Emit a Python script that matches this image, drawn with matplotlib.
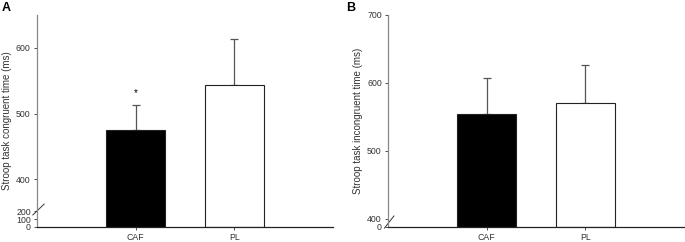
import numpy as np
import matplotlib.pyplot as plt

plt.rcParams['font.family'] = ['Liberation Sans', 'DejaVu Sans']

groups = ['CAF', 'PL']
colors = ['black', 'white']

cong_mean = [475, 544]
cong_err = [38, 70]
incong_mean = [554, 571]
incong_err = [54, 56]

# broken axis mappings (value -> pixel height)
a_vals = [0, 200, 400, 650]
a_pix = [0, 16, 48, 213]
b_vals = [0, 400, 700]
b_pix = [0, 8, 212]


def make_scale(vals, pix):
    fwd = lambda v: np.interp(v, vals, pix)
    inv = lambda p: np.interp(p, pix, vals)
    return fwd, inv


fig = plt.figure(figsize=(6.85, 2.42), dpi=100)
axA = fig.add_axes([37 / 685, 15 / 242, 296 / 685, 212 / 242])
axB = fig.add_axes([388 / 685, 15 / 242, 296 / 685, 212 / 242])

panels = [
    (axA, cong_mean, cong_err, a_vals, a_pix, [0, 100, 200, 400, 500, 600],
     'Stroop task congruent time (ms)', 'A', [(-0.014, 0.057), (0.024, 0.108)]),
    (axB, incong_mean, incong_err, b_vals, b_pix, [0, 400, 500, 600, 700],
     'Stroop task incongruent time (ms)', 'B', [(-0.012, -0.005), (0.02, 0.052)]),
]

x = np.arange(len(groups))
for ax, m, e, vals, pix, ticks, ylab, letter, brk in panels:
    ax.set_yscale('function', functions=make_scale(vals, pix))
    ax.bar(x, m, width=0.6, color=colors, edgecolor='#222222', linewidth=0.8, zorder=2)
    ax.errorbar(x, m, yerr=[[0, 0], e], fmt='none', ecolor='#555555',
                elinewidth=0.9, capsize=3, capthick=0.9, zorder=1)
    ax.set_xlim(-1, 2)
    ax.set_ylim(vals[0], vals[-1])
    ax.set_yticks(ticks)
    ax.set_yticklabels([str(t) for t in ticks])
    ax.set_xticks(x)
    ax.set_xticklabels(groups)
    ax.tick_params(labelsize=6.3, length=2.5, width=0.6, colors='#333333', pad=2)
    ax.tick_params(axis='x', pad=1.5)
    ax.spines['top'].set_visible(False)
    ax.spines['right'].set_visible(False)
    ax.spines['left'].set_color('#888888')
    ax.spines['bottom'].set_color('#222222')
    ax.spines['left'].set_linewidth(0.9)
    ax.spines['bottom'].set_linewidth(0.9)
    ax.set_ylabel(ylab, fontsize=7, color='#333333', labelpad=3)
    ax.plot([brk[0][0], brk[1][0]], [brk[0][1], brk[1][1]], transform=ax.transAxes,
            color='#333333', lw=0.7, clip_on=False)

axA.annotate('*', (0, cong_mean[0] + cong_err[0]), xytext=(0, 5),
             textcoords='offset points', ha='center', va='bottom', fontsize=7)

fig.text(2 / 685, 1 - 8 / 242, 'A', fontsize=9, fontweight='bold', va='center')
fig.text(346 / 685, 1 - 8 / 242, 'B', fontsize=9, fontweight='bold', va='center')

fig.savefig('out.png', dpi=100)
